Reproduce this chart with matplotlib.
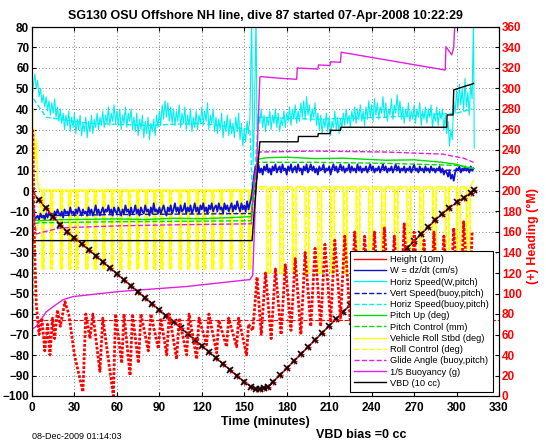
import numpy as np
import matplotlib
matplotlib.use("Agg")
import matplotlib.pyplot as plt
from matplotlib.lines import Line2D

# ---------------- data ----------------
depth_t = [0, 5, 10, 15, 20, 25, 30, 35, 40, 45, 50, 55, 60, 65, 70, 75, 80, 85, 90, 95,
           100, 105, 110, 115, 120, 125, 130, 135, 140, 145, 150, 155, 158, 161, 164,
           167, 170, 175, 180, 185, 190, 195, 200, 205, 210, 215, 220, 225, 230, 235,
           240, 245, 250, 255, 260, 265, 270, 275, 280, 285, 290, 295, 300, 305, 310, 312]
depth_v = [0, -4.5, -8.5, -12.5, -16.4, -19.8, -22.8, -25.7, -28.6, -31.6, -34.5, -37.4,
           -40.4, -43.3, -46.2, -49.2, -52.1, -55.0, -58.0, -60.9, -63.8, -66.8, -69.7,
           -72.6, -75.6, -78.5, -81.4, -84.4, -87.3, -90.2, -93.1, -95.6, -96.4, -96.6,
           -96.3, -95.5, -93.3, -89.9, -86.5, -83.0, -79.6, -76.1, -72.7, -69.2, -65.8,
           -62.3, -58.9, -55.5, -52.0, -48.6, -45.1, -41.7, -38.3, -34.8, -31.4, -27.9,
           -24.5, -21.1, -17.6, -14.2, -11.0, -8.2, -5.6, -3.3, -1.0, 0.3]

# horizontal speed from w and pitch (cm/s), one sample a minute
hspd_desc = [44, 52, 57, 50, 54, 46, 50, 43, 47, 41,
             46, 39, 44, 37, 43, 38, 45, 36, 41, 34,
             40, 33, 38, 30, 37, 32, 39, 29, 36, 31,
             38, 28, 35, 30, 37, 27, 33, 29, 36, 26,
             34, 29, 37, 28, 35, 31, 38, 30, 36, 32,
             39, 31, 37, 33, 41, 32, 38, 34, 42, 33,
             39, 32, 40, 30, 37, 33, 41, 31, 38, 34,
             40, 30, 36, 29, 38, 27, 35, 30, 37, 26,
             34, 28, 36, 25, 33, 29, 35, 27, 37, 31,
             39, 32, 42, 35, 44, 36, 43, 34, 41, 33,
             40, 32, 39, 34, 42, 31, 38, 33, 41, 30,
             37, 32, 40, 29, 36, 31, 39, 30, 37, 33,
             41, 32, 39, 34, 43, 30, 37, 33, 40, 29,
             36, 28, 35, 30, 38, 26, 34, 29, 37, 27,
             35, 28, 33, 26, 36, 29, 38, 25, 33, 22,
             30, 24, 34, 28, 36]
hspd_spike_t = [155.2, 156.2, 157.0, 158.3]
hspd_spike_v = [85, 13, 30, 85]
hspd_asc = [30, 38, 33, 40, 31, 37, 29, 36, 32, 39,
            30, 37, 33, 40, 31, 38, 29, 35, 32, 39,
            31, 38, 34, 41, 32, 40, 35, 42, 33, 39,
            34, 43, 36, 44, 35, 46, 37, 42, 34, 40,
            36, 43, 32, 38, 30, 37, 28, 35, 31, 38,
            29, 36, 27, 34, 31, 39, 30, 36, 28, 35,
            31, 38, 32, 40, 33, 37, 31, 39, 34, 41,
            33, 40, 35, 42, 34, 39, 32, 41, 35, 44,
            36, 42, 34, 45, 37, 43, 35, 41, 38, 46,
            36, 43, 34, 40, 37, 45, 35, 42, 38, 47,
            37, 44, 35, 41, 33, 40, 36, 43, 34, 39,
            35, 42, 33, 40, 36, 43, 32, 39, 35, 41,
            33, 40, 36, 42, 31, 38, 34, 41, 32, 39,
            35, 40, 30, 37, 28, 34, 22, 30, 25, 44,
            38, 49, 40, 52, 42, 50, 39, 55, 41, 48,
            37, 52, 45, 85]
hspd_end_t = [312.5]
hspd_end_v = [21]

# w = dz/dt (cm/s), one sample a minute
w_desc = [0, -8, -14, -13, -12, -14, -11, -13, -12, -14,
          -11, -13, -10, -12, -11, -13, -10, -12, -9, -11,
          -12, -10, -13, -9, -11, -10, -12, -8, -11, -10,
          -12, -9, -11, -8, -10, -12, -9, -11, -10, -12,
          -8, -11, -9, -12, -10, -7, -11, -9, -12, -10,
          -8, -11, -9, -10, -7, -11, -9, -12, -8, -10,
          -11, -8, -10, -12, -9, -11, -7, -10, -9, -12,
          -8, -11, -10, -7, -11, -9, -12, -8, -10, -11,
          -7, -10, -9, -12, -8, -11, -6, -10, -9, -11,
          -8, -11, -9, -7, -10, -12, -8, -10, -7, -11,
          -9, -6, -10, -8, -11, -7, -10, -9, -6, -11,
          -8, -10, -7, -11, -9, -6, -10, -8, -11, -7,
          -9, -6, -10, -8, -11, -7, -9, -6, -10, -8,
          -7, -10, -6, -9, -8, -11, -6, -9, -7, -10,
          -8, -6, -10, -7, -9, -5, -8, -10, -6, -9,
          -7, -10, -5, -9, -6, -3]
w_asc = [2, 8, 12, 10, 13, 9, 11, 8, 12, 10,
         13, 9, 11, 8, 12, 10, 13, 9, 11, 12,
         9, 13, 10, 11, 8, 12, 10, 13, 9, 11,
         12, 9, 13, 10, 11, 8, 12, 10, 13, 9,
         11, 13, 10, 12, 9, 11, 8, 12, 10, 11,
         13, 9, 11, 10, 12, 8, 11, 13, 10, 12,
         9, 11, 13, 10, 12, 9, 11, 10, 13, 9,
         12, 10, 11, 9, 13, 10, 12, 9, 11, 10,
         12, 9, 11, 13, 10, 12, 9, 11, 10, 12,
         9, 11, 13, 10, 12, 9, 11, 10, 12, 9,
         11, 13, 10, 12, 9, 11, 10, 12, 9, 11,
         10, 12, 9, 11, 13, 10, 11, 9, 12, 10,
         11, 9, 12, 10, 11, 9, 12, 10, 11, 9,
         11, 10, 12, 9, 11, 8, 10, 9, 7, 10,
         6, 8, 5, 9, 11, 10, 12, 9, 11, 10,
         12, 10, 11, 9, 12, 10, 11]

vspd_t = [2, 10, 60, 155, 157, 160, 250, 312]
vspd_v = [-13, -12, -11.5, -11, 0, 10.5, 10.5, 10]
hbuoy_t = [1, 10, 40, 80, 120, 154, 156, 160, 200, 250, 300, 311]
hbuoy_v = [45, 36, 33, 32, 33, 30, -5, 36, 35, 36, 38, 40]

pitch_t = [0.3, 1, 2, 5, 20, 40, 60, 80, 100, 120, 140, 155, 157, 160, 165, 180,
           200, 220, 250, 270, 290, 300, 305, 312]
pitch_v = [-5, -12, -14, -14.5, -14, -13.8, -13.6, -13.9, -13.3, -13.5, -13, -12.5,
           5, 15.5, 16.2, 16.5, 15.8, 16.0, 15, 15.2, 14, 13, 12, 11]
pitchctl_t = [0, 0.5, 1, 5, 60, 155, 157, 160, 200, 250, 300, 312]
pitchctl_v = [-98, -60, -16, -15.5, -15, -14.5, 3, 14, 14, 13.5, 12.5, 11]

glide_t = [1, 3, 8, 20, 60, 100, 155, 157, 160, 200, 250, 290, 305, 312]
glide_v = [-10, -21, -20, -18, -17, -16.5, -16, 5, 19, 19.5, 19, 18, 16, 14]

buoy_t = [0, 0.3, 1, 3, 6, 10, 15, 22, 29, 62, 109, 154, 156, 161, 162, 175, 187,
          187.5, 202, 202.5, 210.6, 211, 218, 218.5, 292, 292.5, 296.6, 298, 299]
buoy_v = [85, -67, -67, -66, -63, -59, -56.4, -53, -51.5, -49, -46.6, -43.2, -41,
          55.5, 55.8, 55, 54.5, 60, 59.5, 61.5, 61.2, 63, 62.8, 67.7, 59, 70.4, 66.4,
          70, 85]

vbd_t = [0, 0.7, 155.5, 157, 161, 188, 188.3, 202, 202.3, 210.6, 210.9, 218, 218.3,
         293, 293.3, 297.5, 298, 305, 310.7, 312]
vbd_v = [-2, -24.2, -24.2, -10, 24, 24, 26.6, 26.6, 28, 28, 29.6, 29.6, 31.1,
         31.1, 37.1, 37.1, 49.3, 50.9, 52.1, 52.5]

# vehicle roll: start, then brief swings to port
roll_start_t = [0, 0.5, 1, 1.5, 2, 3, 4, 5]
roll_start_v = [30, 40, -25, 30, 15, 25, 5, 0.5]
roll_dips_desc = [7, 13, 20, 26, 31, 38, 44, 50, 56, 62, 68, 74, 80, 86, 91, 97, 104,
                  110, 116, 121, 127, 133, 140, 147, 153]
roll_dips_asc = [166, 175, 184, 193, 202, 211, 220, 229, 238, 247, 256, 265, 274, 283,
                 292, 300, 307]

# heading (deg M), vertices of the swings
head_t = [0.5, 1.5, 3, 5, 7, 9, 11, 12.7, 14.5, 16, 18, 20, 23.3, 26, 30, 36, 38, 41,
          43, 48, 50, 57.5, 59, 63.4, 65, 69.3, 71, 75.2, 77, 82.2, 84, 89.3, 91, 95.2,
          97, 102.2, 104, 109.3, 111, 116.4, 118, 123.4, 125, 130.5, 132, 137.5, 139,
          144.6, 146, 151.6, 153, 156,
          157, 159, 162, 165, 169, 172, 176, 179, 183, 186, 190, 193, 197, 200, 204,
          207, 211, 214, 218, 221, 225, 228, 232, 235, 239, 242, 246, 249, 253, 256,
          260, 263, 267, 270, 274, 277, 281, 284, 288, 291, 295, 298, 302, 305, 309, 311]
head_v = [260, 160, 90, 60, 76, 44, 70, 40, 76, 56, 84, 68, 92, 80, 40, 4, 80, 56, 80,
          24, 76, 0, 80, 32, 80, 20, 80, 32, 80, 44, 80, 46, 76, 40, 80, 36, 76, 40, 80,
          36, 76, 50, 80, 42, 74, 48, 76, 48, 76, 40, 70, 64,
          80, 116, 60, 120, 56, 124, 60, 128, 64, 134, 60, 140, 68, 144, 68, 148, 72,
          152, 76, 156, 70, 160, 80, 156, 76, 160, 70, 164, 80, 156, 72, 168, 64, 160,
          76, 152, 60, 160, 68, 156, 76, 164, 64, 170, 80, 160]
head_ref = 74


def dip_series(t0, v0, dips, width, top, bottom):
    t, v = list(t0), list(v0)
    for d in dips:
        t += [d, d, d + width, d + width]
        v += [top, bottom, bottom, top]
    return t, v


t_desc = np.arange(0, len(hspd_desc))
t_asc = np.arange(159, 159 + len(hspd_asc))
hspd_t = np.concatenate([t_desc, hspd_spike_t, t_asc, hspd_end_t])
hspd_v = np.concatenate([hspd_desc, hspd_spike_v, hspd_asc, hspd_end_v])
w_t = np.concatenate([np.arange(0, len(w_desc)), np.arange(156, 156 + len(w_asc))])
w_v = np.concatenate([w_desc, w_asc])

rt1, rv1 = dip_series(roll_start_t, roll_start_v, roll_dips_desc, 1.2, 0.5, -38)
rt2, rv2 = dip_series([155, 158], [0.5, 2], roll_dips_asc, 2.5, 2, -40)
roll_t, roll_v = rt1 + rt2 + [312], rv1 + rv2 + [5]
ct1, cv1 = dip_series([0.5, 1], [20, -30], [d + 0.7 for d in roll_dips_desc], 1.0, 0, -38)
ct2, cv2 = dip_series([158], [1], [d + 0.8 for d in roll_dips_asc], 2.0, 1, -40)
rctl_t, rctl_v = ct1 + ct2, cv1 + cv2

# ---------------- figure ----------------
plt.rcParams['font.family'] = ['Liberation Sans', 'DejaVu Sans']
fig = plt.figure(figsize=(5.46, 4.42), dpi=100)
ax = fig.add_axes([32 / 546, 1 - 396 / 442, 467 / 546, 369 / 442])

blue = '#1010d0'
cyan = '#00f0f0'
green = '#00dd00'
yellow = '#ffff00'
magenta = '#e020e0'

h_hbuoy, = ax.plot(hbuoy_t, hbuoy_v, color=cyan, ls='--', lw=1)
h_hspd, = ax.plot(hspd_t, hspd_v, color=cyan, lw=0.8)
h_rctl, = ax.plot(rctl_t, rctl_v, color=yellow, ls='--', lw=1)
h_roll, = ax.plot(roll_t, roll_v, color=yellow, lw=1)
h_vspd, = ax.plot(vspd_t, vspd_v, color=blue, ls='--', lw=1)
h_w, = ax.plot(w_t, w_v, color=blue, lw=1.3)
h_pitch, = ax.plot(pitch_t, pitch_v, color=green, lw=1)
h_pctl, = ax.plot(pitchctl_t, pitchctl_v, color=green, ls='--', lw=1)
h_glide, = ax.plot(glide_t, glide_v, color=magenta, ls='--', lw=1)
h_buoy, = ax.plot(buoy_t, buoy_v, color=magenta, lw=1)
h_vbd, = ax.plot(vbd_t, vbd_v, color='black', lw=1)

ax.set_xlim(0, 330)
ax.set_ylim(-100, 80)
ax.set_xticks(np.arange(0, 331, 30))
ax.set_yticks(np.arange(-100, 81, 10))
ax.grid(True, color='#555555', ls=(0, (1, 3)), lw=0.6)
ax.tick_params(direction='in', top=True, right=False, length=3, labelsize=8.5, pad=2)
ax.tick_params(axis='x', pad=4.5)
for lab in ax.get_xticklabels() + ax.get_yticklabels():
    lab.set_fontweight('bold')
ax.set_xlabel('Time (minutes)', fontsize=9, fontweight='bold', labelpad=1)
ax.set_title('SG130 OSU Offshore NH line, dive 87 started 07-Apr-2008 10:22:29',
             fontsize=9, fontweight='bold', pad=6)

ax2 = ax.twinx()
ax2.axhline(head_ref, color='red', ls='--', lw=0.8)
ax2.plot(head_t, head_v, color='red', ls=(0, (1, 0.6)), lw=2)
h_depth, = ax.plot(depth_t, depth_v, color='red', lw=1, marker='+', ms=4)
ax.plot(depth_t, depth_v, ls='none', marker='x', ms=4, mew=1.2, color='black')
ax2.set_ylim(0, 360)
ax2.set_yticks(np.arange(0, 361, 20))
ax2.tick_params(direction='in', length=3, labelsize=8.5, labelcolor='red', pad=2)
for lab in ax2.get_yticklabels():
    lab.set_fontweight('bold')
ax2.set_ylabel('(+) Heading (\u00b0M)', color='red', fontsize=9, fontweight='bold')
ax2.yaxis.set_label_coords(1.06, 0.434)

handles = [h_depth, h_w, h_hspd, h_vspd, h_hbuoy, h_pitch, h_pctl, h_roll, h_rctl,
           h_glide, h_buoy, h_vbd]
labels = ['Height (10m)', 'W = dz/dt (cm/s)', 'Horiz Speed(W,pitch)',
          'Vert Speed(buoy,pitch)', 'Horiz Speed(buoy,pitch)', 'Pitch Up (deg)',
          'Pitch Control (mm)', 'Vehicle Roll Stbd (deg)', 'Roll Control (deg)',
          'Glide Angle (buoy,pitch)', '1/5 Buoyancy (g)', 'VBD (10 cc)']
proxies = [Line2D([], [], color=h.get_color(), ls=h.get_linestyle(), lw=1) for h in handles]
leg = ax2.legend(proxies, labels, loc='lower right', bbox_to_anchor=(0.988, 0.011),
                 borderaxespad=0, fontsize=6.7, handlelength=3.4, labelspacing=0.24,
                 handletextpad=0.5, borderpad=0.45, fancybox=False, framealpha=1,
                 edgecolor='black')
leg.get_frame().set_linewidth(0.8)
leg.set_zorder(10)

fig.text(32 / 546, 1 - 441 / 442, '08-Dec-2009 01:14:03', fontsize=6.5, va='bottom')
fig.text(316 / 546, 1 - 441 / 442, 'VBD bias =0 cc', fontsize=9, fontweight='bold',
         va='bottom')

fig.savefig('out.png', dpi=100)
